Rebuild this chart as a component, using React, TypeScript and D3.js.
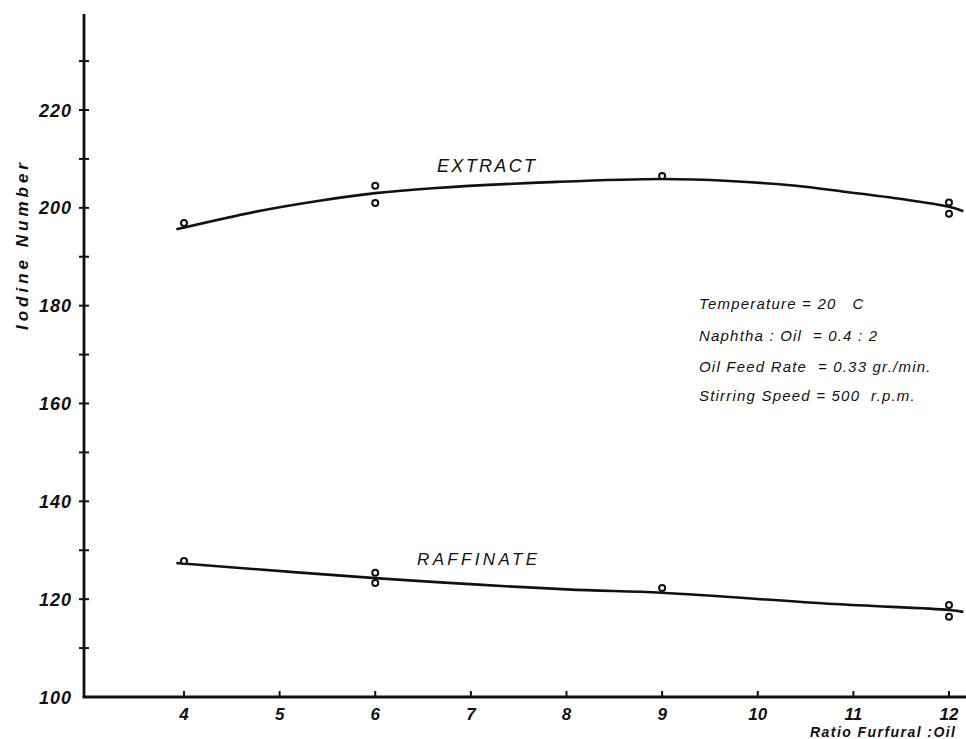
import { useRef, useEffect } from "react";
import * as d3 from "d3";

const W = 966;
const H = 739;

// x ticks and y ticks
const xTicks = [4, 5, 6, 7, 8, 9, 10, 11, 12];
const yMajor = [100, 120, 140, 160, 180, 200, 220];
const yMinor = [110, 130, 150, 170, 190, 210, 230];

// measured points (x = ratio furfural:oil, y = iodine number)
const extractX = [4, 6, 6, 9, 12, 12];
const extractY = [196.9, 204.5, 201.0, 206.5, 201.1, 198.8];
const raffinateX = [4, 6, 6, 9, 12, 12];
const raffinateY = [127.8, 125.4, 123.3, 122.3, 118.8, 116.4];

// hand drawn fitted curves
const extractFitX = [3.92, 4.8, 5.4, 6, 6.6, 7.9, 9, 9.7, 10.4, 10.9, 11.5, 12, 12.15];
const extractFitY = [195.6, 199.4, 201.4, 203, 204, 205.3, 205.9, 205.5, 204.5, 203.3, 201.8, 200.2, 199.3];
const raffinateFitX = [3.92, 6, 8, 9, 10.8, 12, 12.15];
const raffinateFitY = [127.4, 124.3, 122.0, 121.3, 119.0, 117.8, 117.4];

const notes = [
  "Temperature = 20   C",
  "Naphtha : Oil  = 0.4 : 2",
  "Oil Feed Rate  = 0.33 gr./min.",
  "Stirring Speed = 500  r.p.m.",
];

const FONT = "'Liberation Sans', Arial, sans-serif";

export default function App() {
  const ref = useRef<SVGSVGElement>(null);

  useEffect(() => {
    document.body.style.margin = "0";
    const svg = d3.select(ref.current);
    svg.selectAll("*").remove();

    const x = d3.scaleLinear().domain([4, 12]).range([184, 949]);
    const y = d3.scaleLinear().domain([100, 220]).range([697, 110]);
    const axisX = 84;

    svg.append("rect").attr("width", W).attr("height", H).attr("fill", "#fff");

    const g = svg.append("g").attr("fill", "none").attr("stroke", "#111");

    // y axis
    g.append("line")
      .attr("x1", axisX).attr("x2", axisX)
      .attr("y1", y(239.6)).attr("y2", y(100))
      .attr("stroke-width", 2.8);
    [...yMajor, ...yMinor].forEach((v) => {
      if (v === 100) return;
      g.append("line")
        .attr("x1", axisX - 5).attr("x2", axisX + 5)
        .attr("y1", y(v)).attr("y2", y(v))
        .attr("stroke-width", 2);
    });

    // x axis
    g.append("line")
      .attr("x1", axisX - 1.4).attr("x2", W)
      .attr("y1", y(100)).attr("y2", y(100))
      .attr("stroke-width", 2.8);
    xTicks.forEach((t) => {
      g.append("line")
        .attr("x1", x(t)).attr("x2", x(t))
        .attr("y1", y(100) - 6).attr("y2", y(100) + 1)
        .attr("stroke-width", 2);
    });

    const text = svg.append("g").attr("fill", "#111").attr("font-family", FONT).attr("font-style", "italic");

    yMajor.forEach((v) => {
      text.append("text")
        .attr("x", 72).attr("y", y(v) + 6.5)
        .attr("text-anchor", "end")
        .attr("font-size", 18)
        .attr("font-weight", "bold")
        .attr("letter-spacing", 1)
        .text(v);
    });

    xTicks.forEach((t) => {
      text.append("text")
        .attr("x", x(t)).attr("y", 720)
        .attr("text-anchor", "middle")
        .attr("font-size", 17)
        .attr("font-weight", "bold")
        .text(t);
    });

    // axis titles
    text.append("text")
      .attr("transform", `translate(28,330) rotate(-90)`)
      .attr("font-size", 17)
      .attr("font-weight", "bold")
      .attr("textLength", 167)
      .attr("lengthAdjust", "spacing")
      .text("Iodine  Number");

    text.append("text")
      .attr("x", 810).attr("y", 737)
      .attr("font-size", 14)
      .attr("font-weight", "bold")
      .attr("textLength", 145)
      .attr("lengthAdjust", "spacing")
      .text("Ratio Furfural :Oil");

    // fitted curves
    const line = d3.line<[number, number]>()
      .x((d) => x(d[0]))
      .y((d) => y(d[1]))
      .curve(d3.curveCatmullRom);

    const fits = [
      d3.zip(extractFitX, extractFitY) as [number, number][],
      d3.zip(raffinateFitX, raffinateFitY) as [number, number][],
    ];
    fits.forEach((pts) => {
      g.append("path").attr("d", line(pts)).attr("stroke-width", 2.6);
    });

    // points
    const series = [
      d3.zip(extractX, extractY),
      d3.zip(raffinateX, raffinateY),
    ];
    series.forEach((pts) => {
      g.selectAll(null)
        .data(pts)
        .enter()
        .append("circle")
        .attr("cx", (d) => x(d[0]))
        .attr("cy", (d) => y(d[1]))
        .attr("r", 3)
        .attr("fill", "#fff")
        .attr("stroke-width", 2);
    });

    // series labels
    text.append("text")
      .attr("x", 437).attr("y", 172)
      .attr("font-size", 18)
      .attr("textLength", 98)
      .attr("lengthAdjust", "spacing")
      .text("EXTRACT");
    text.append("text")
      .attr("x", 417).attr("y", 565)
      .attr("font-size", 17)
      .attr("textLength", 120)
      .attr("lengthAdjust", "spacing")
      .text("RAFFINATE");

    // experimental conditions
    const baselines = [309, 341, 372, 401];
    notes.forEach((n, i) => {
      text.append("text")
        .attr("x", 699).attr("y", baselines[i])
        .attr("font-size", 15)
        .attr("letter-spacing", 1.2)
        .style("white-space", "pre")
        .text(n);
    });
  }, []);

  return (
    <svg
      ref={ref}
      width={W}
      height={H}
      style={{ position: "absolute", left: 0, top: 0 }}
    />
  );
}
